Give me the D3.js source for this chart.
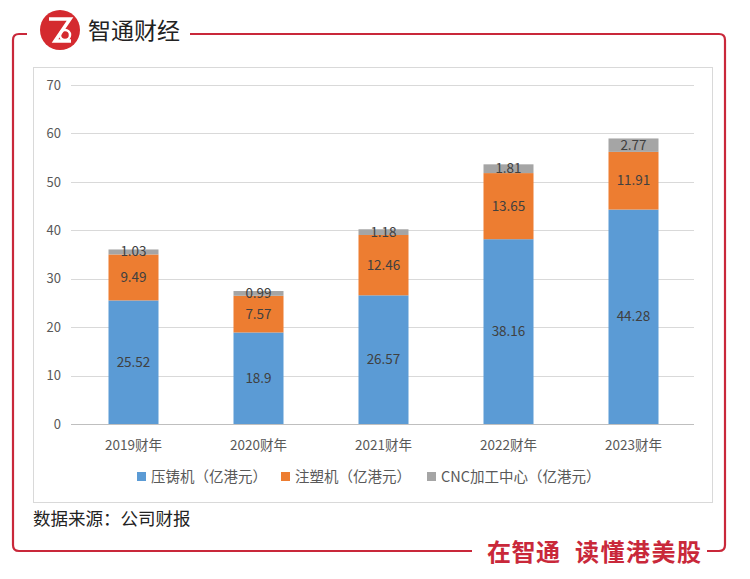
<!DOCTYPE html>
<html><head><meta charset="utf-8">
<script src="https://cdn.jsdelivr.net/npm/d3@7"></script>
<style>body{margin:0;background:#fff}svg{display:block}text{font-family:"Noto Sans CJK SC","Microsoft YaHei",sans-serif}</style>
</head><body>
<svg id="c" width="750" height="579"></svg>
<script>
const categories = ["2019财年","2020财年","2021财年","2022财年","2023财年"];
const seriesNames = ["压铸机（亿港元）","注塑机（亿港元）","CNC加工中心（亿港元）"];
const dieCasting = [25.52, 18.9, 26.57, 38.16, 44.28];
const injection = [9.49, 7.57, 12.46, 13.65, 11.91];
const cnc = [1.03, 0.99, 1.18, 1.81, 2.77];
const yTicks = [0,10,20,30,40,50,60,70];
const colors = ["#5b9bd5","#ed7d31","#a5a5a5"];
const red = "#c9283a";

const svg = d3.select("#c");

// Frame
const frame = d3.path();
frame.moveTo(27,34); frame.lineTo(19,34); frame.quadraticCurveTo(13,34,13,40);
frame.lineTo(13,545); frame.quadraticCurveTo(13,551,19,551); frame.lineTo(472,551);
svg.append("path").attr("d",frame.toString()).attr("fill","none").attr("stroke",red).attr("stroke-width",2.2);
const frame2 = d3.path();
frame2.moveTo(190,34); frame2.lineTo(719,34); frame2.quadraticCurveTo(725,34,725,40);
frame2.lineTo(725,545); frame2.quadraticCurveTo(725,551,719,551); frame2.lineTo(707,551);
svg.append("path").attr("d",frame2.toString()).attr("fill","none").attr("stroke",red).attr("stroke-width",2.2);

// Logo
svg.append("circle").attr("cx",60).attr("cy",30).attr("r",20).attr("fill","#d42a2f");
svg.append("path").attr("d","M49,19 L70,19 L55,41 L71,41").attr("fill","none").attr("stroke","#fff").attr("stroke-width",3.5);
svg.append("circle").attr("cx",65).attr("cy",35).attr("r",5).attr("fill","none").attr("stroke","#fff").attr("stroke-width",2.5);
svg.append("text").attr("x",88).attr("y",39).attr("font-size",23).attr("fill","#222").text("智通财经");

// Slogan
svg.append("text").attr("x",487).attr("y",561).attr("font-size",24).attr("font-weight","bold").attr("fill",red)
  .attr("letter-spacing",0.5).text("在智通");
svg.append("text").attr("x",575).attr("y",561).attr("font-size",24).attr("font-weight","bold").attr("fill",red)
  .attr("letter-spacing",1.5).text("读懂港美股");

// Chart box
svg.append("rect").attr("x",33.5).attr("y",67.5).attr("width",679).attr("height",435).attr("fill","#fff").attr("stroke","#d9d9d9");

const x = d3.scaleBand().domain(categories).range([71,696]).paddingInner(0.6).paddingOuter(0.3);
const y = d3.scaleLinear().domain([0,70]).range([424,85]);

const g = svg.append("g");
g.selectAll("line.grid").data(yTicks).join("line")
  .attr("x1",71).attr("x2",694).attr("y1",d=>Math.round(y(d))+0.5).attr("y2",d=>Math.round(y(d))+0.5)
  .attr("stroke",d=>d===0?"#bfbfbf":"#d9d9d9").attr("stroke-width",1);

const yAxis = d3.axisLeft(y).tickValues(yTicks).tickSize(0).tickPadding(0);
const ya = g.append("g").attr("transform","translate(61,0)").call(yAxis);
ya.select(".domain").remove();
ya.selectAll("text").attr("font-size",13).attr("fill","#595959").attr("font-family","Noto Sans CJK SC, sans-serif");

const xAxis = d3.axisBottom(x).tickSize(0).tickPadding(0);
const xa = g.append("g").attr("transform","translate(0,440)").call(xAxis);
xa.select(".domain").remove();
xa.selectAll("text").attr("font-size",13.5).attr("fill","#595959").attr("font-family","Noto Sans CJK SC, sans-serif");

const rows = categories.map((c,i)=>({cat:c, s0:dieCasting[i], s1:injection[i], s2:cnc[i]}));
const stack = d3.stack().keys(["s0","s1","s2"])(rows);

stack.forEach((layer,k)=>{
  const lg = g.append("g");
  lg.selectAll("rect").data(layer).join("rect")
    .attr("x",d=>x(d.data.cat)).attr("width",x.bandwidth())
    .attr("y",d=>y(d[1])).attr("height",d=>y(d[0])-y(d[1]))
    .attr("fill",colors[k]);
  lg.selectAll("text").data(layer).join("text")
    .attr("x",d=>x(d.data.cat)+x.bandwidth()/2)
    .attr("y",d=>(y(d[0])+y(d[1]))/2 + 4.5)
    .attr("text-anchor","middle").attr("font-size",13.5).attr("fill","#404040")
    .text(d=>d.data["s"+k]);
});

// Legend
const legendX = [137, 281, 427];
const leg = svg.append("g");
seriesNames.forEach((n,i)=>{
  leg.append("rect").attr("x",legendX[i]).attr("y",472).attr("width",9).attr("height",9).attr("fill",colors[i]);
  leg.append("text").attr("x",legendX[i]+14).attr("y",482).attr("font-size",14.5).attr("fill","#595959").text(n);
});

svg.append("text").attr("x",33).attr("y",525).attr("font-size",17.5).attr("fill","#222").text("数据来源：公司财报");
</script>
</body></html>
